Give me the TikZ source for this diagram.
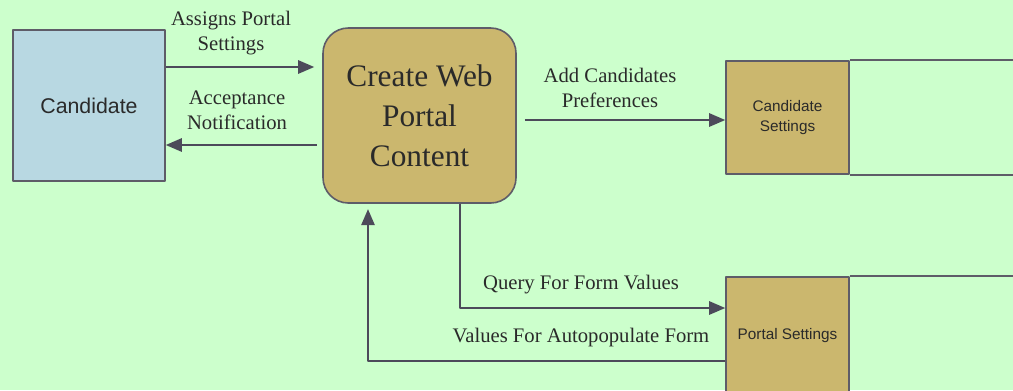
\documentclass[tikz,border=0pt]{standalone}
\usepackage{fontspec}
\setmainfont{Liberation Serif}
\setsansfont{Liberation Sans}
\usetikzlibrary{arrows.meta}
\definecolor{dfdBg}{HTML}{CCFFCC}
\definecolor{dfdBlue}{HTML}{B8D8E2}
\definecolor{dfdTan}{HTML}{CBB76E}
\definecolor{dfdEdge}{HTML}{5E5C68}
\definecolor{dfdArrow}{HTML}{4C4A5A}
\definecolor{dfdText}{HTML}{2A2A2A}

\begin{document}
\begin{tikzpicture}[x=0.75pt,y=-0.75pt,>={Triangle[length=12pt,width=10pt]},line join=round,
    flow/.style={->,draw=dfdArrow,line width=1.3pt},
    lbl/.style={align=center,text=dfdText,font=\fontsize{15.5}{18.75}\selectfont},
    store/.style={draw=dfdEdge,line width=1.2pt,fill=dfdTan,inner sep=0pt,
                  minimum width=92.25pt,align=center,text=dfdText,
                  font=\sffamily\fontsize{11.5}{15}\selectfont}]
    \clip (0,0) rectangle (1013,390);
    \fill[dfdBg] (0,0) rectangle (1013,390);
    % external entity and process
    \node[draw=dfdEdge,fill=dfdBlue,line width=1.2pt,minimum width=114pt,minimum height=113.25pt,
          inner sep=0pt,text=dfdText,font=\sffamily\fontsize{16}{19}\selectfont]
          (cand) at (89,105.5) {Candidate};
    \node[draw=dfdEdge,fill=dfdTan,line width=1.2pt,rounded corners=19pt,minimum width=144.75pt,
          minimum height=131.25pt,inner sep=0pt,align=center,text=dfdText,
          font=\fontsize{23.5}{30}\selectfont]
          (proc) at (419.5,115.5) {Create Web\\Portal\\Content};
    % data stores, open to the right
    \node[store,minimum height=84.75pt] (candset) at (787.5,117.5) {Candidate\\Settings};
    \node[store,minimum height=88.5pt] (portset) at (787.5,336) {Portal Settings};
    \draw[dfdEdge,line width=1.2pt] (candset.north east) -- ++(250,0);
    \draw[dfdEdge,line width=1.2pt] (candset.south east) -- ++(250,0);
    \draw[dfdEdge,line width=1.2pt] (portset.north east) -- ++(250,0);
    % data flows
    \draw[flow,shorten >=6pt] (cand.east |- 0,67) -- (proc.west |- 0,67);
    \draw[flow,shorten <=4pt] (proc.west |- 0,145) -- (cand.east |- 0,145);
    \draw[flow,shorten <=6pt] (proc.east |- 0,120) -- (candset.west |- 0,120);
    \draw[flow] (proc.south -| 460,0) |- (portset.west |- 0,308);
    \draw[flow,shorten >=4pt] (portset.west |- 0,361) -| (proc.south -| 368,0);
    \node[lbl] (assigns) at (231,33) {Assigns Portal\\Settings};
    \node[lbl] (accept) at (237,110) {Acceptance\\Notification};
    \node[lbl] (prefs) at (610,88) {Add Candidates\\Preferences};
    \node[lbl] (query) at (581,285) {Query For Form Values};
    \node[lbl] (values) at (581,338) {Values For Autopopulate Form};
\end{tikzpicture}
\end{document}
